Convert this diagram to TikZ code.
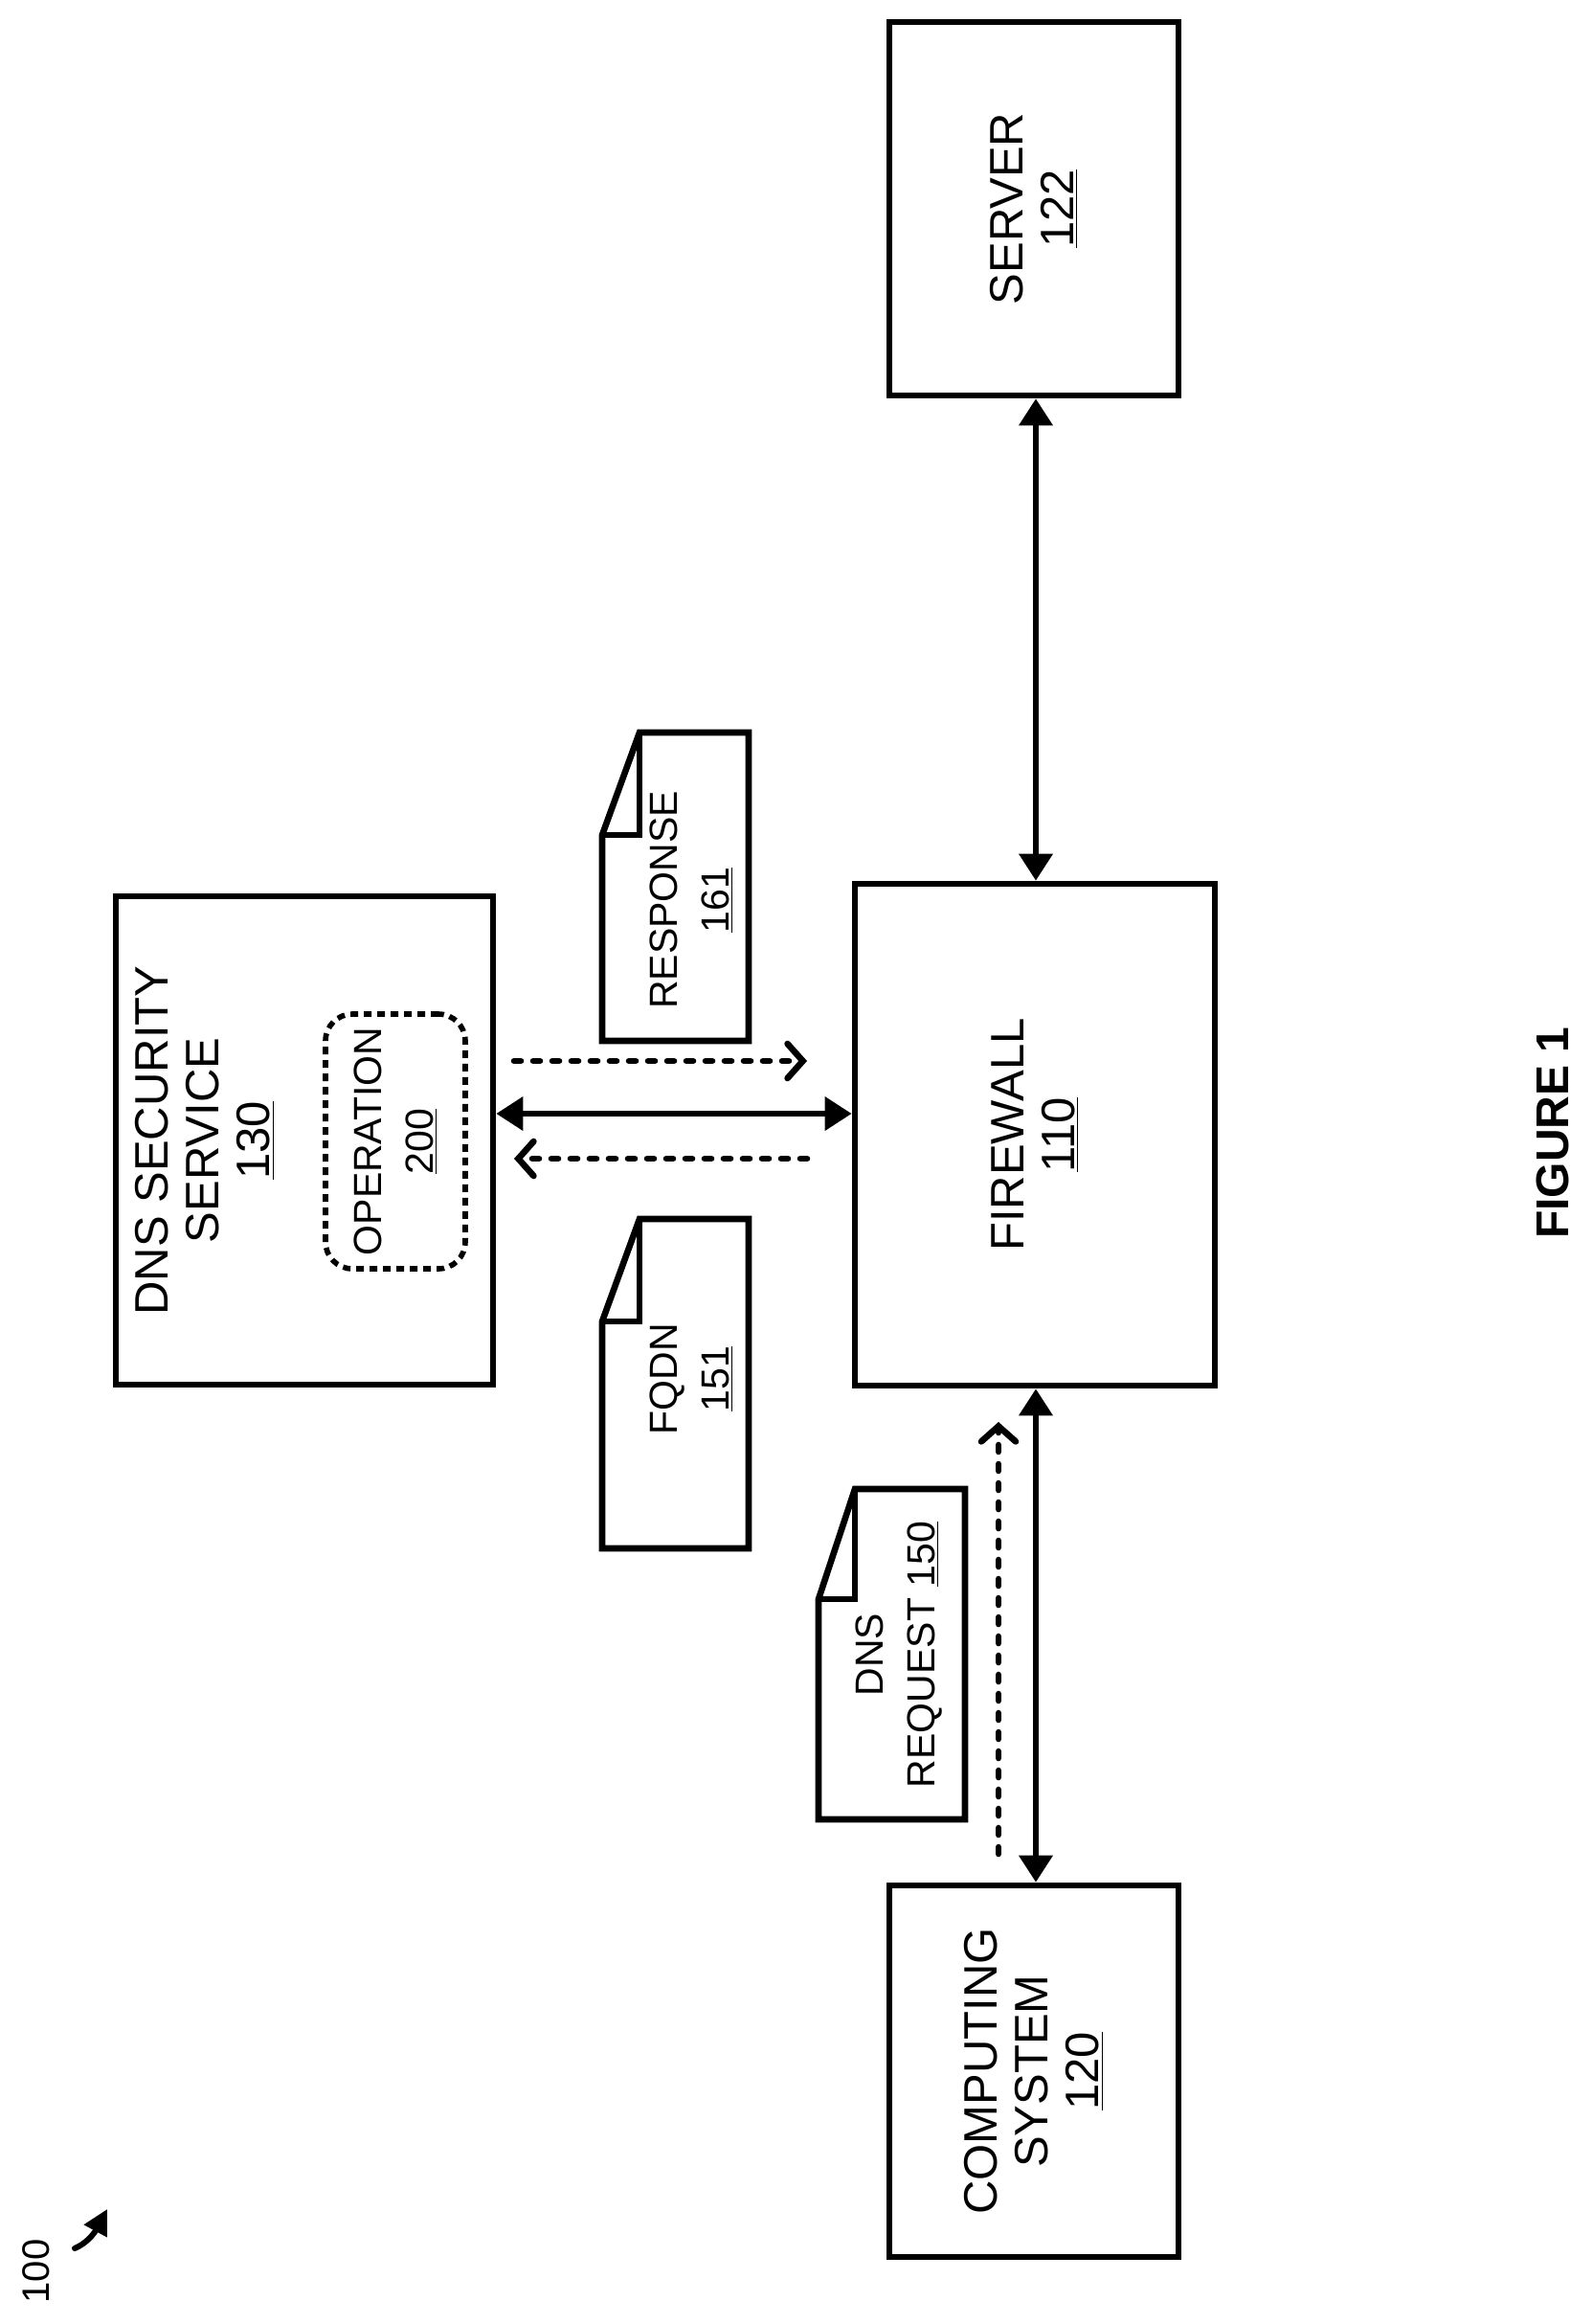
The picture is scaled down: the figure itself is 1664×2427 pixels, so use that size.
\documentclass[tikz,border=0pt]{standalone}
\usepackage{fontspec}
\setmainfont{Liberation Sans}
\usetikzlibrary{arrows.meta,positioning}
\begin{document}
\begin{tikzpicture}[x=0.5pt,y=-0.5pt,
  box/.style={draw,line width=3.3pt,inner sep=0pt},
  txt/.style={rotate=90,align=center,font=\fontsize{24.5}{26.5}\selectfont},
  dtxt/.style={rotate=90,align=center,font=\fontsize{20.5}{27}\selectfont},
  solid arr/.style={line width=3.3pt,{Triangle[length=14pt,width=17pt]}-{Triangle[length=14pt,width=17pt]}},
  dash arr/.style={line width=3.3pt,line cap=round,dash pattern=on 3.5pt off 6.5pt,-{Straight Barb[length=8pt,width=18pt,line cap=round]}},
  doc/.style={draw,line width=3.3pt,line join=miter}]
\path[use as bounding box] (0,0) rectangle (1664,2427);
% boxes
\node[box,minimum width=151pt,minimum height=195pt] (server) at (1080,218) {};
\node[txt] at (server) {SERVER\\\underline{122}};
\node[box,minimum width=197pt,minimum height=255pt] (dns) at (318,1191) {};
\node[txt] at (214,1191) {DNS SECURITY\\SERVICE\\\underline{130}};
\node[draw,line width=2.8pt,dash pattern=on 4pt off 3pt,rounded corners=14pt,minimum width=73pt,minimum height=133pt] (op) at (413,1192) {};
\node[dtxt] at (op) {OPERATION\\\underline{200}};
\node[box,minimum width=188pt,minimum height=262pt] (fw) at (1081,1185) {};
\node[txt] at (fw) {FIREWALL\\\underline{110}};
\node[box,minimum width=151pt,minimum height=194pt] (cs) at (1080,2163) {};
\node[txt] at (cs) {COMPUTING\\SYSTEM\\\underline{120}};
% documents
\draw[doc] (668,765) -- (782,765) -- (782,1087) -- (629,1087) -- (629,872) -- cycle;
\draw[doc] (668,765) -- (668,872) -- (629,872);
\node[dtxt] (resp) at (722,940) {RESPONSE\\\underline{161}};
\draw[doc] (668,1273) -- (782,1273) -- (782,1617) -- (629,1617) -- (629,1380) -- cycle;
\draw[doc] (668,1273) -- (668,1380) -- (629,1380);
\node[dtxt] (fqdn) at (722,1440) {FQDN\\\underline{151}};
\draw[doc] (893,1555) -- (1008,1555) -- (1008,1900) -- (855,1900) -- (855,1670) -- cycle;
\draw[doc] (893,1555) -- (893,1670) -- (855,1670);
\node[dtxt] (req) at (939,1728) {DNS\\REQUEST \underline{150}};
% connectors
\draw[solid arr] (server.south -| 1082,0) -- (fw.north -| 1082,0);
\draw[solid arr] (dns.east |- 0,1163) -- (fw.west |- 0,1163);
\draw[solid arr] (fw.south -| 1082,0) -- (cs.north -| 1082,0);
\coordinate (d1a) at (537,1108); \coordinate (d1b) at (843,1108);
\coordinate (d2a) at (843,1210); \coordinate (d2b) at (537,1210);
\coordinate (d3a) at (1043,1936); \coordinate (d3b) at (1043,1485);
\draw[dash arr] (d1a) -- (d1b);
\draw[dash arr] (d2a) -- (d2b);
\draw[dash arr] (d3a) -- (d3b);
% labels
\node[rotate=90,font=\bfseries\fontsize{24}{28}\selectfont] (fig) at (1622,1183) {FIGURE 1};
\node[rotate=90,font=\fontsize{20}{24}\selectfont] (lbl) at (38,2372) {100};
\coordinate (ltip) at (112,2307);
\draw[line width=3pt,line cap=round,-{Triangle[length=13pt,width=13pt]}] (78,2348) .. controls (90,2343) and (98,2333) .. (ltip);
\end{tikzpicture}
\end{document}
